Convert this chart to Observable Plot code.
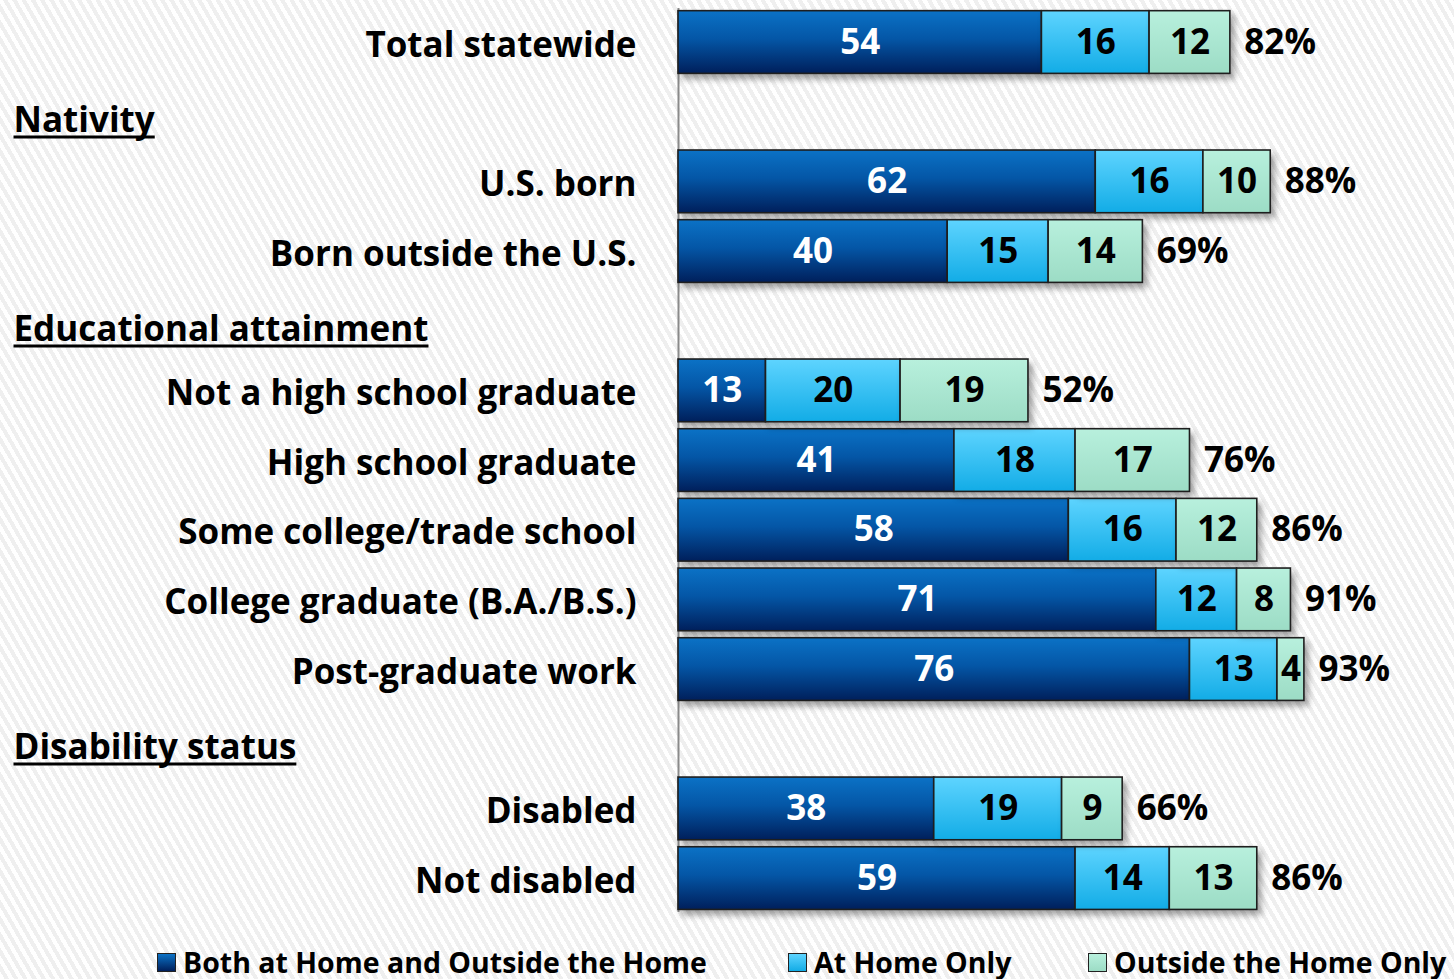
<!DOCTYPE html>
<html>
<head>
<meta charset="utf-8">
<script src="https://cdn.jsdelivr.net/npm/d3@7"></script>
<script src="https://cdn.jsdelivr.net/npm/@observablehq/plot@0.6"></script>
<style>
  html, body { margin: 0; padding: 0; }
  body {
    width: 1454px; height: 979px; overflow: hidden;
    font-family: "Open Sans", Lato, sans-serif; font-weight: bold;
    background: repeating-linear-gradient(60deg, #ffffff 0px, #ffffff 4px, #efefef 4px, #efefef 8px);
  }
  #chart svg { display: block; background: transparent; }
  #legend { position: relative; height: 44px; font-size: 28.5px; color: #000; }
  .item { position: absolute; top: 5px; height: 44px; display: flex; align-items: center; white-space: nowrap; }
  .sw { width: 17px; height: 17px; border: 1.5px solid #222; margin-right: 7px; }
</style>
</head>
<body>
<div id="chart"></div>
<div id="legend"></div>
<script>
// ---- data ----
const rowOrder = ["Total statewide", "Nativity", "U.S. born", "Born outside the U.S.", "Educational attainment",
  "Not a high school graduate", "High school graduate", "Some college/trade school", "College graduate (B.A./B.S.)",
  "Post-graduate work", "Disability status", "Disabled", "Not disabled"];
const headers = ["Nativity", "Educational attainment", "Disability status"];
const groups = ["Total statewide", "U.S. born", "Born outside the U.S.", "Not a high school graduate",
  "High school graduate", "Some college/trade school", "College graduate (B.A./B.S.)", "Post-graduate work",
  "Disabled", "Not disabled"];
const seriesNames = ["Both at Home and Outside the Home", "At Home Only", "Outside the Home Only"];
const both = [54, 62, 40, 13, 41, 58, 71, 76, 38, 59];
const homeOnly = [16, 16, 15, 20, 18, 16, 12, 13, 19, 14];
const outsideOnly = [12, 10, 14, 19, 17, 12, 8, 4, 9, 13];
const totals = [82, 88, 69, 52, 76, 86, 91, 93, 66, 86];

// ---- build tidy table with stacked extents ----
const seriesValues = [both, homeOnly, outsideOnly];
const tidy = [];
groups.forEach((g, i) => {
  let acc = 0;
  seriesValues.forEach((vals, s) => {
    const v = vals[i];
    tidy.push({label: g, series: s, value: v, x1: acc, x2: acc + v, mid: acc + v / 2});
    acc += v;
  });
});
const totalRows = groups.map((g, i) => ({label: g, total: totals[i]}));
const fills = ["url(#gBoth)", "url(#gHome)", "url(#gOut)"];

const fontSize = 35;
const FONT = "'Open Sans', Lato, sans-serif";
const plot = Plot.plot({
  width: 1454,
  height: 935,
  marginLeft: 678,
  marginRight: 103,
  marginTop: 8,
  marginBottom: 23,
  style: {fontFamily: FONT, fontWeight: "bold", background: "transparent"},
  x: {domain: [0, 100], range: [678, 1351], axis: null},
  y: {domain: rowOrder, range: [3.7, 916.4], padding: 0.1, round: false, axis: null},
  marks: [
    Plot.ruleX([0], {stroke: "#8a8a8a", strokeWidth: 2}),
    ...seriesValues.map((_, s) => Plot.barX(tidy.filter(d => d.series === s), {
      y: "label", x1: "x1", x2: "x2", fill: fills[s], stroke: "#1e1e1e", strokeWidth: 1.6,
      ariaLabel: () => "bars"
    })),
    Plot.text(tidy.filter(d => d.series === 0), {
      y: "label", x: "mid", text: d => String(d.value), fill: "white", fontSize: fontSize, fontWeight: "bold"
    }),
    Plot.text(tidy.filter(d => d.series !== 0), {
      y: "label", x: "mid", text: d => String(d.value), fill: "black", fontSize: fontSize, fontWeight: "bold"
    }),
    Plot.text(totalRows, {
      y: "label", x: "total", text: d => d.total + "%", textAnchor: "start", dx: 14,
      fill: "black", fontSize: fontSize, fontWeight: "bold"
    }),
    Plot.text(groups, {
      y: d => d, x: () => 0, text: d => d, textAnchor: "end", dx: -42, dy: 3,
      fill: "black", fontSize: fontSize, fontWeight: "bold"
    }),
    Plot.text(headers, {
      y: d => d, x: () => 0, text: d => d, textAnchor: "start", dx: -665, dy: 9,
      fill: "black", fontSize: fontSize, fontWeight: "bold", ariaLabel: () => "header"
    })
  ]
});

// gradients
const svg = d3.select(plot);
const defs = svg.insert("defs", ":first-child");
function grad(id, stops) {
  const g = defs.append("linearGradient").attr("id", id).attr("x1", 0).attr("y1", 0).attr("x2", 0).attr("y2", 1);
  stops.forEach(([o, c]) => g.append("stop").attr("offset", o).attr("stop-color", c));
}
grad("gBoth", [["0%", "#0b72c6"], ["45%", "#0456a6"], ["100%", "#001f5b"]]);
grad("gHome", [["0%", "#5ed4ff"], ["100%", "#12ace6"]]);
grad("gOut", [["0%", "#b8f0dd"], ["100%", "#9cdcc5"]]);
svg.selectAll("text").style("font-weight", "bold");

document.getElementById("chart").appendChild(plot);

// drop shadow on the bar groups
const barGroups = new Set();
plot.querySelectorAll("[aria-label='bars']").forEach(el => barGroups.add(el.parentNode));
barGroups.forEach(g => g.style.filter = "drop-shadow(4px 5px 3px rgba(0,0,0,0.35))");

// underline the section headers, using each text's own measured box
const ulayer = svg.append("g");
const pr = plot.getBoundingClientRect();
plot.querySelectorAll("text[aria-label='header']").forEach(t => {
  const r = t.getBoundingClientRect();
  const x0 = r.left - pr.left, x1 = r.right - pr.left;
  const yLine = r.top - pr.top + r.height * 0.885;
  ulayer.append("line").attr("x1", x0).attr("x2", x1).attr("y1", yLine).attr("y2", yLine)
    .attr("stroke", "black").attr("stroke-width", 3);
});

// legend
const legendLefts = [157, 788, 1088];
const legend = d3.select("#legend");
seriesNames.forEach((name, s) => {
  const it = legend.append("div").attr("class", "item").style("left", legendLefts[s] + "px");
  it.append("div").attr("class", "sw").style("background", [
    "linear-gradient(#0b72c6, #001f5b)", "linear-gradient(#5ed4ff, #12ace6)", "linear-gradient(#b8f0dd, #9cdcc5)"][s]);
  it.append("span").text(name);
});
</script>
</body>
</html>
